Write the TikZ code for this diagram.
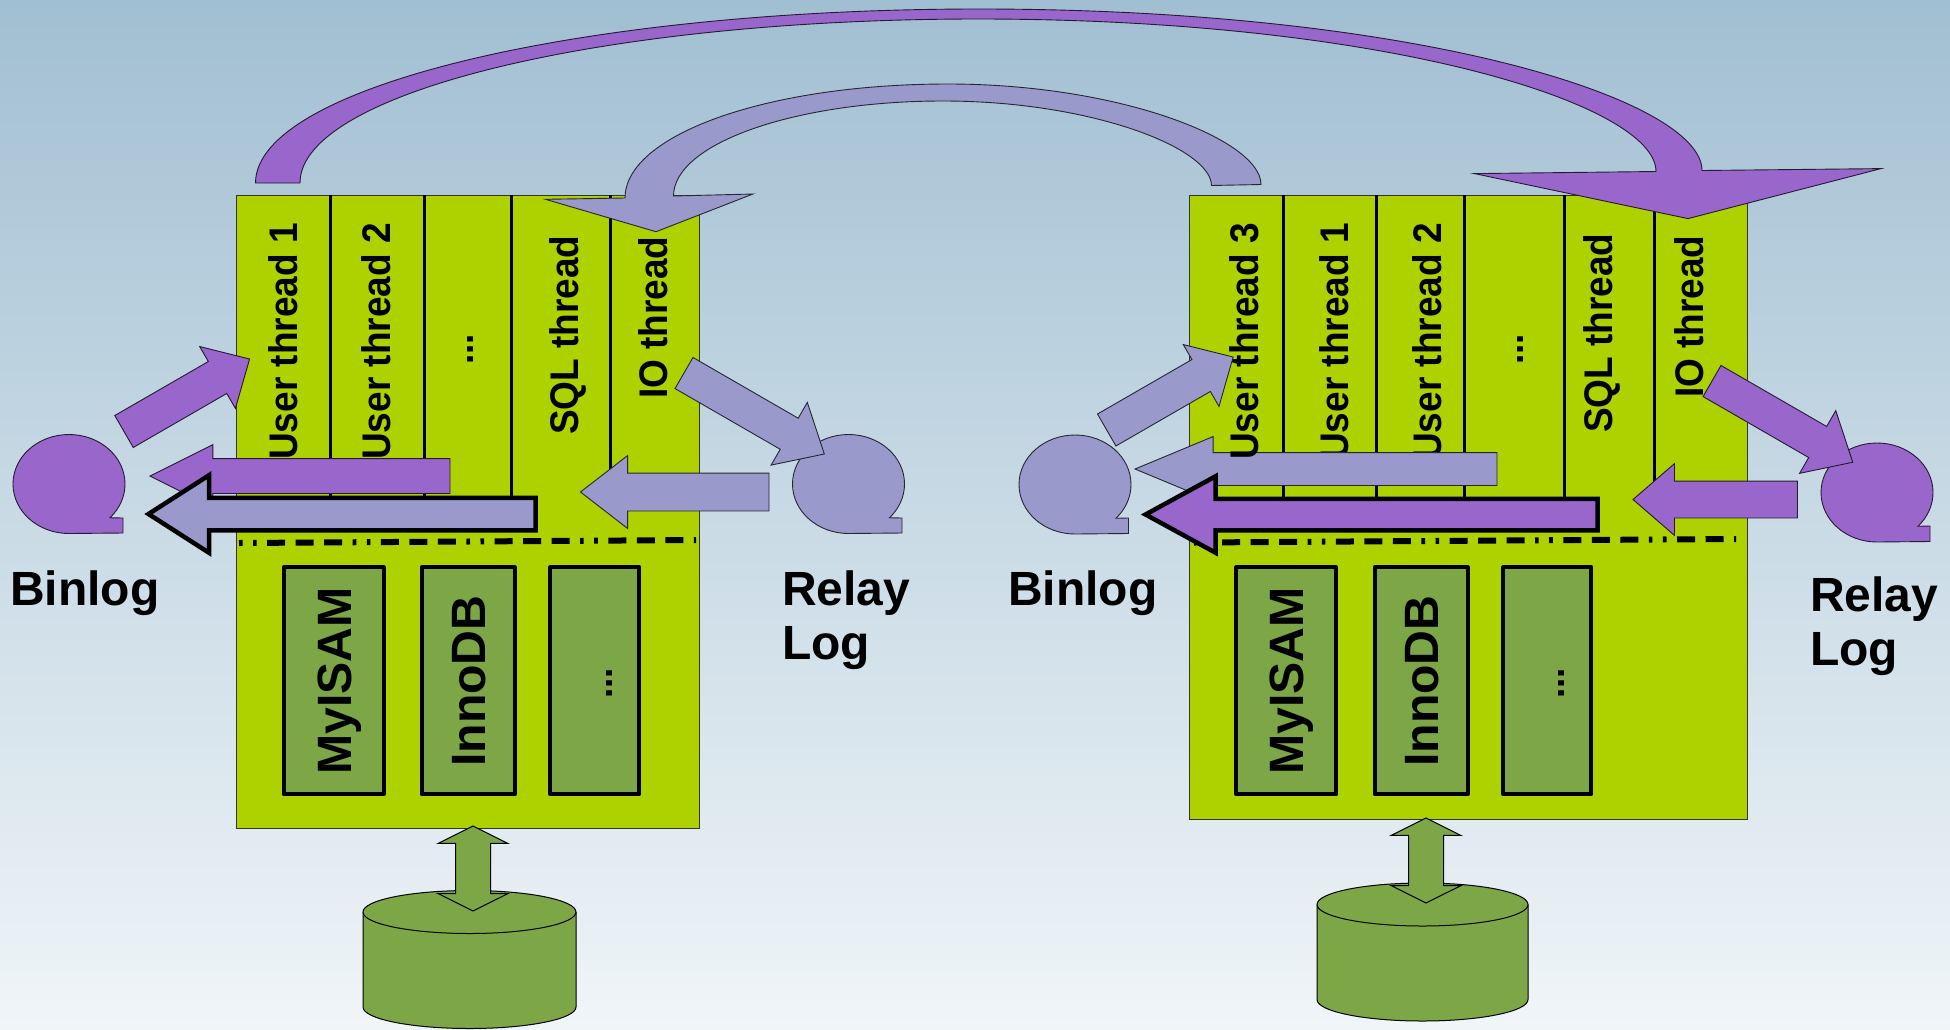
\documentclass[tikz,border=0pt]{standalone}
\usepackage{fontspec}
\setmainfont{Liberation Sans}
\usetikzlibrary{shapes.arrows}

\definecolor{bgtop}{HTML}{A1BFD2}
\definecolor{bgbottom}{HTML}{F0F5F8}
\definecolor{servergreen}{HTML}{AED100}
\definecolor{enginegreen}{HTML}{7DA647}
\definecolor{binpurple}{HTML}{9966CC}
\definecolor{relayblue}{HTML}{9999CC}

\tikzset{
  serverbox/.style={draw=black!80, line width=1pt, fill=servergreen, inner sep=0pt, outer sep=0pt, anchor=north west},
  enginebox/.style={draw=black, line width=4pt, line join=round, fill=enginegreen, inner sep=0pt, outer sep=0pt, anchor=north west},
  threadline/.style={black, line width=3pt},
  splitline/.style={black, line width=6pt, dash pattern=on 3.6pt off 10.5pt on 3.6pt off 10.5pt on 18pt off 10.5pt on 18pt off 10.5pt on 18pt off 10.5pt},
  threadtext/.style={font=\fontsize{37}{40}\selectfont\bfseries, rotate=90, yscale=1.08, anchor=base west, inner sep=0pt},
  enginetext/.style={font=\fontsize{48.2}{50}\selectfont\bfseries, rotate=90, anchor=base west, inner sep=0pt},
  logtext/.style={font=\fontsize{48}{54}\selectfont\bfseries, anchor=base west, inner sep=0pt, align=left},
  purplefill/.style={draw=black!75!binpurple, line width=.9pt, fill=binpurple},
  bluefill/.style={draw=black!75!relayblue, line width=.9pt, fill=relayblue},
  heavy/.style={draw=black, line width=4.5pt},
  % length, head width, shaft width, head length
  blockarrow/.style n args={4}{single arrow, anchor=tail, inner xsep=0pt, inner ysep=#3/2*1pt, outer sep=0pt,
    minimum height=#1pt, minimum width=#2pt, single arrow head extend={(#2-#3)/2*1pt},
    single arrow tip angle={2*atan(#2/(2*#4))}},
  diskarrow/.style={double arrow, draw=black, line width=1pt, fill=enginegreen, rotate=90, inner xsep=0pt, inner ysep=17pt, outer sep=0pt,
    minimum height=85pt, minimum width=69pt, double arrow head extend=17.5pt, double arrow tip angle=127},
  disk/.style={draw=black, line width=1pt, fill=enginegreen},
}

\begin{document}
\begin{tikzpicture}[x=1pt,y=-1pt]

  % Background
  \shade[top color=bgtop, bottom color=bgbottom] (0,0) rectangle (1950,1029);
  \useasboundingbox (0,0) rectangle (1950,1029);

  % Left server
  \node[serverbox, minimum width=463pt, minimum height=633pt] (leftserver) at (236,195) {};
  \draw[threadline] (330,195) -- (330,499);
  \draw[threadline] (424,195) -- (424,499);
  \draw[threadline] (511.5,195) -- (511.5,499);
  \draw[threadline] (610,195) -- (610,499);
  \node[threadtext] (leftuserone) at (297,460) {User thread 1};
  \node[threadtext] (leftusertwo) at (390,460) {User thread 2};
  \node[threadtext] (leftdots) at (473,365) {...};
  \node[threadtext] (leftsql) at (578,435) {SQL thread};
  \node[threadtext] (leftio) at (667,399) {IO thread};
  \draw[splitline] (239,543) -- (696,540);

  % Left engines
  \node[enginebox, minimum width=100pt, minimum height=227pt] (leftmyisam) at (283.7,567.3) {};
  \node[enginebox, minimum width=93pt, minimum height=227pt] (leftinnodb) at (421.7,567.3) {};
  \node[enginebox, minimum width=89pt, minimum height=227pt] (leftother) at (550.3,567.3) {};
  \node[enginetext] (leftmyisamtext) at (351,775) {MyISAM};
  \node[enginetext] (leftinnodbtext) at (485,767) {InnoDB};
  \node[threadtext] (leftothertext) at (612,699) {...};

  % Left disk
  \draw[disk] (363,912) -- (363,1007) arc[start angle=180, end angle=0, x radius=106.5, y radius=21.5] -- (576,912) arc[start angle=0, end angle=-180, x radius=106.5, y radius=21.5] -- cycle;
  \draw[disk] (363,912) arc[start angle=180, end angle=0, x radius=106.5, y radius=21.5];
  \node[diskarrow] (leftdiskarrow) at (473,868.5) {};

  % Left logs
  \draw[purplefill] (123,533) -- (69,533.5) arc[start angle=90, end angle=403, x radius=56, y radius=49.5] -- (123,518) -- cycle;
  \draw[bluefill] (902,533) -- (848.5,533.5) arc[start angle=90, end angle=403, x radius=56, y radius=49.5] -- (902,518) -- cycle;
  \node[logtext] (leftbinlog) at (10,605) {Binlog};
  \node[logtext] (leftrelay) at (782,659) {Relay\\Log};

  % Left arrows
  \node[purplefill, blockarrow={145}{70.5}{36}{36.5}, rotate=30] (leftwrite) at (124,431.5) {};
  \node[bluefill, blockarrow={162}{71.5}{35}{40}, rotate=-30] (leftfetch) at (684,373) {};
  \node[purplefill, blockarrow={300}{62}{34}{62}, rotate=180] (leftdump) at (450,476) {};
  \node[bluefill, blockarrow={188.5}{72}{37}{46.5}, rotate=180] (leftapply) at (769,492) {};
  \node[bluefill, heavy, blockarrow={387}{73}{28}{57}, rotate=180] (leftsqlwrite) at (535.5,514) {};

  % Right server
  \node[serverbox, minimum width=558pt, minimum height=624pt] (rightserver) at (1189,195) {};
  \draw[threadline] (1283,195) -- (1283,500);
  \draw[threadline] (1376,195) -- (1376,500);
  \draw[threadline] (1464,195) -- (1464,500);
  \draw[threadline] (1564,195) -- (1564,500);
  \draw[threadline] (1654,195) -- (1654,500);
  \node[threadtext] (rightuserone) at (1348,460) {User thread 1};
  \node[threadtext] (rightusertwo) at (1441,460) {User thread 2};
  \node[threadtext] (rightdots) at (1523,365) {...};
  \node[threadtext] (rightsql) at (1612,433) {SQL thread};
  \node[threadtext] (rightio) at (1703,398) {IO thread};
  \draw[splitline] (1194,542.5) -- (1736,539);

  % Right engines
  \node[enginebox, minimum width=100pt, minimum height=227pt] (rightmyisam) at (1236.3,567.3) {};
  \node[enginebox, minimum width=93pt, minimum height=227pt] (rightinnodb) at (1374.7,567.3) {};
  \node[enginebox, minimum width=88pt, minimum height=227pt] (rightother) at (1503.3,567.3) {};
  \node[enginetext] (rightmyisamtext) at (1303,775) {MyISAM};
  \node[enginetext] (rightinnodbtext) at (1438,767) {InnoDB};
  \node[threadtext] (rightothertext) at (1564,699) {...};

  % Right disk
  \draw[disk] (1317,904.5) -- (1317,999.5) arc[start angle=180, end angle=0, x radius=105.5, y radius=21.5] -- (1528,904.5) arc[start angle=0, end angle=-180, x radius=105.5, y radius=21.5] -- cycle;
  \draw[disk] (1317,904.5) arc[start angle=180, end angle=0, x radius=105.5, y radius=21.5];
  \node[diskarrow] (rightdiskarrow) at (1426,860.5) {};

  % Right logs
  \draw[bluefill] (1128.5,533.5) -- (1075,534) arc[start angle=90, end angle=403, x radius=56, y radius=49.5] -- (1128.5,518) -- cycle;
  \draw[purplefill] (1930,541.5) -- (1877,542) arc[start angle=90, end angle=403, x radius=56, y radius=49.5] -- (1930,526) -- cycle;
  \node[logtext] (rightbinlog) at (1008,605) {Binlog};
  \node[logtext] (rightrelay) at (1810,665) {Relay\\Log};

  % Right arrows
  \node[bluefill, blockarrow={362}{64}{32}{77}, rotate=180] (rightdump) at (1497,469) {};
  \node[threadtext] (rightuserthree) at (1258,460) {User thread 3};
  \node[bluefill, blockarrow={146}{70.5}{36}{36.5}, rotate=30] (rightwrite) at (1106.7,430) {};
  \node[purplefill, blockarrow={162.5}{71.5}{35}{40}, rotate=-30] (rightfetch) at (1712,381) {};
  \node[purplefill, blockarrow={164.5}{71}{36}{41}, rotate=180] (rightapply) at (1797.5,499.5) {};
  \node[purplefill, heavy, blockarrow={452}{72}{27}{66}, rotate=180] (rightsqlwrite) at (1597.5,514.5) {};

  % Replication between the servers
  \draw[purplefill] (255.5,183) .. controls (255.5,87) and (580,9) .. (979,9)
    .. controls (1420,9) and (1702,100) .. (1702,170.5)
    -- (1881,168.6) -- (1688,218.6) -- (1474.5,173.6) -- (1656,171.5)
    .. controls (1656,105) and (1390,19) .. (978,19)
    .. controls (603.5,19) and (300,92.4) .. (300,183) -- cycle;
  \draw[bluefill] (1261,184.5) .. controls (1261,140) and (1120,84) .. (948,84)
    .. controls (767,84) and (625,135) .. (625,198)
    -- (545.5,199.3) -- (656,231.7) -- (753,194) -- (673.5,196)
    .. controls (673.5,143.5) and (795,101) .. (943,101)
    .. controls (1091,101) and (1211,148) .. (1211.5,185.5) -- cycle;

\end{tikzpicture}
\end{document}
